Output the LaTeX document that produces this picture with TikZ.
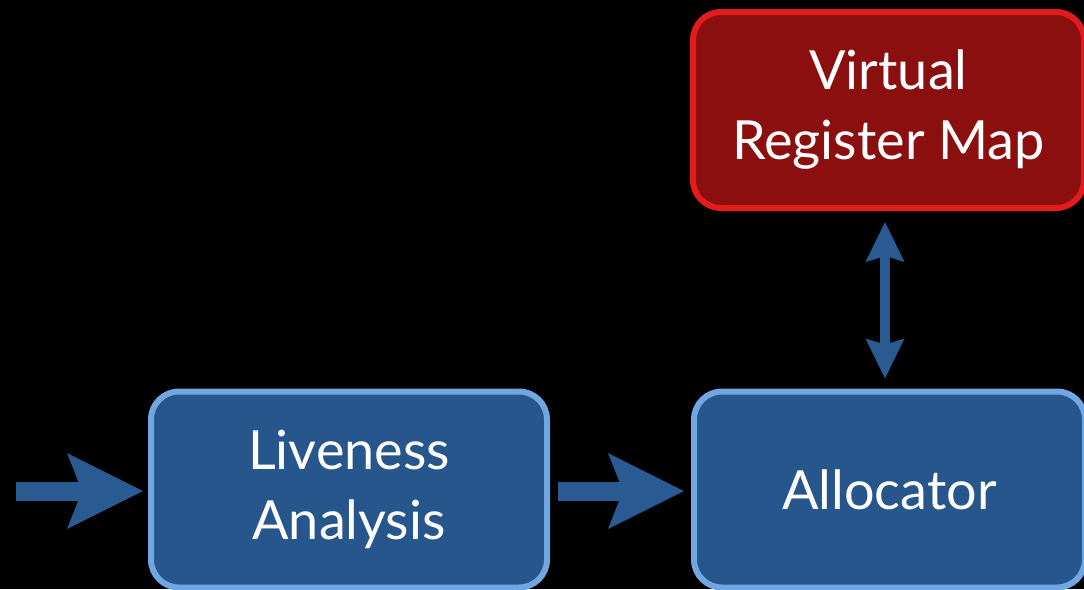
\documentclass[tikz,border=0pt]{standalone}
\usepackage{fontspec}
\setmainfont{Lato}
\usetikzlibrary{arrows.meta}
\definecolor{boxblue}{HTML}{26568C}
\definecolor{edgeblue}{HTML}{70A7E2}
\definecolor{boxred}{HTML}{8C0F0F}
\definecolor{edgered}{HTML}{E21C1C}
\definecolor{arrowblue}{HTML}{295A92}
\tikzset{
  stage/.style={draw=edgeblue, fill=boxblue, line width=6pt, rounded corners=28pt,
    outer sep=0pt, text=white, align=center, font=\fontsize{54}{70}\selectfont},
  mapbox/.style={stage, draw=edgered, fill=boxred},
  flow/.style={draw=arrowblue, line width=19pt,
    -{Stealth[length=76pt,width=76pt,inset=15pt,line width=0pt,fill=arrowblue]}},
  link/.style={draw=arrowblue, line width=10pt,
    {Stealth[length=40pt,width=39pt,inset=6pt,line width=0pt,fill=arrowblue]}-{Stealth[length=40pt,width=39pt,inset=6pt,line width=0pt,fill=arrowblue]}}
}
\begin{document}
\begin{tikzpicture}[x=1pt,y=-1pt]
  \useasboundingbox (0,0) rectangle (1084,589);
  \fill[black] (0,0) rectangle (1084,589);
  \clip (0,0) rectangle (1084,589);

  % processing stages
  \node[stage, minimum width=396pt, minimum height=196pt] (live) at (349,489.5) {Liveness\\Analysis};
  \node[stage, minimum width=391pt, minimum height=196pt] (alloc) at (889.5,489.5) {Allocator};
  \node[mapbox, minimum width=391pt, minimum height=196pt] (vrm) at (888.5,110) {Virtual\\Register Map};

  % input arrow
  \coordinate (in) at (16,491);
  \draw[flow, shorten >=8pt] (in) -- (in -| live.west);
  % stage to stage
  \draw[flow, shorten <=11pt, shorten >=10pt] (in -| live.east) -- (in -| alloc.west);
  % allocator <-> register map
  \draw[link, shorten <=14pt, shorten >=13pt] (vrm.south -| 885,0) -- (alloc.north -| 885,0);
\end{tikzpicture}
\end{document}
